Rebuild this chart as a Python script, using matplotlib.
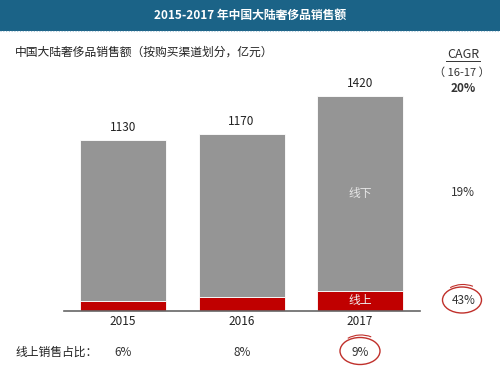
import matplotlib.pyplot as plt
from matplotlib.patches import Ellipse, Rectangle, Arc
from matplotlib.lines import Line2D

plt.rcParams['font.family'] = ['Noto Sans CJK SC', 'DejaVu Sans']

years = ['2015', '2016', '2017']
totals = [1130, 1170, 1420]
online = [68, 94, 134]
online_share = ['6%', '8%', '9%']
cagr_total = '20%'
cagr_offline = '19%'
cagr_online = '43%'

offline = [t - o for t, o in zip(totals, online)]

W, H = 500, 370
fig = plt.figure(figsize=(5, 3.7), dpi=100)


def fx(px):
    return px / W


def fy(py):
    # pixel y measured from top
    return 1 - py / H


# title banner
fig.patches.append(Rectangle((0, fy(31)), 1, 31 / H, transform=fig.transFigure,
                             facecolor='#1b6387', edgecolor='none', zorder=0))
fig.lines.append(Line2D([0, 1], [fy(31), fy(31)], transform=fig.transFigure,
                        color='#a9c6d8', lw=0.8, ls=(0, (1, 1.5))))
fig.text(0.5, fy(15), '2015-2017 年中国大陆奢侈品销售额', color='white',
         fontsize=8.5, fontweight='bold', ha='center', va='center')

fig.text(fx(15), fy(52), '中国大陆奢侈品销售额（按购买渠道划分，亿元）',
         fontsize=8.5, color='#222222', ha='left', va='center')

# bars
ax = fig.add_axes([fx(64), fy(311), fx(420) - fx(64), 215 / H])
x = range(len(years))
ax.bar(x, online, width=0.726, color='#c00000', edgecolor='white', linewidth=0.6)
ax.bar(x, offline, bottom=online, width=0.726, color='#959595',
       edgecolor='white', linewidth=0.6)
ax.set_xlim(-0.498, 2.506)
ax.set_ylim(0, 1420)

for i, t in enumerate(totals):
    ax.text(i, t + 40, str(t), ha='center', va='bottom', fontsize=8.5,
            color='#222222', clip_on=False)

last = len(years) - 1
ax.text(last, online[last] + offline[last] * 0.5, '线下', ha='center', va='center',
        fontsize=8.5, color='#e6e6e6')
ax.text(last, online[last] / 2, '线上', ha='center', va='center',
        fontsize=8.5, color='#f0f0f0')

ax.set_xticks(list(x))
ax.set_xticklabels(years, fontsize=8.5, color='#222222')
ax.tick_params(axis='x', length=0, pad=3)
ax.set_yticks([])
for s in ['top', 'right', 'left']:
    ax.spines[s].set_visible(False)
ax.spines['bottom'].set_color('#666666')
ax.spines['bottom'].set_linewidth(1.2)

# CAGR column
fig.text(fx(463), fy(54), 'CAGR', fontsize=9, color='#333333', ha='center', va='center')
fig.lines.append(Line2D([fx(446), fx(480)], [fy(61), fy(61)], transform=fig.transFigure,
                       color='#333333', lw=0.7))
fig.text(fx(462), fy(72.5), '（ 16-17 ）', fontsize=8, color='#333333', ha='center', va='center')
fig.text(fx(463), fy(88), cagr_total, fontsize=8.5, fontweight='bold', color='#333333',
         ha='center', va='center')
fig.text(fx(463), fy(193), cagr_offline, fontsize=8.5, color='#333333', ha='center', va='center')
fig.text(fx(464), fy(301), cagr_online, fontsize=8.5, color='#333333', ha='center', va='center')

# online share row
fig.text(fx(15), fy(352), '线上销售占比：', fontsize=8.5, color='#222222', ha='left', va='center')
share_x = [123, 242, 360]
for px, s in zip(share_x, online_share):
    fig.text(fx(px), fy(352), s, fontsize=8.5, color='#333333', ha='center', va='center')

# red hand-drawn circles
for cx, cy, w, h in [(462, 300, 39, 26), (360, 351, 40, 27)]:
    fig.patches.append(Ellipse((fx(cx), fy(cy)), w / W, h / H, transform=fig.transFigure,
                               facecolor='none', edgecolor='#c0302b', lw=1.0))
    fig.patches.append(Arc((fx(cx + 1), fy(cy - 1)), (w + 2) / W, (h + 3) / H,
                           transform=fig.transFigure, theta1=60, theta2=130,
                           edgecolor='#c0302b', lw=0.8))

fig.savefig('out.png', dpi=100)
